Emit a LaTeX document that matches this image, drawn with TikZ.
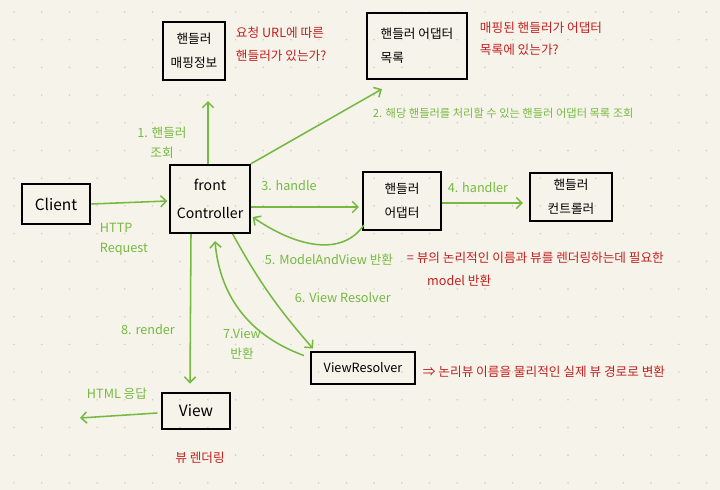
\documentclass[tikz,border=0pt]{standalone}
\usepackage{fontspec}
\setmainfont{Noto Sans CJK KR}
\usetikzlibrary{calc,arrows.meta}
\definecolor{pen}{HTML}{76B942}
\definecolor{ink}{HTML}{C3201F}
\definecolor{paper}{HTML}{F6F4EA}
\definecolor{dotc}{HTML}{CFCDC2}

\begin{document}
\begin{tikzpicture}[x=0.025cm,y=-0.025cm,
    box/.style={draw=black,line width=1.5pt,align=center,inner sep=2pt,font=\fontsize{9}{17}\selectfont},
    garrow/.style={-{Straight Barb[length=4pt,width=8pt]},draw=pen,line width=1.1pt},
    glabel/.style={text=pen,font=\fontsize{9}{14}\selectfont,align=center},
    rnote/.style={text=ink,font=\fontsize{9}{16}\selectfont,align=left,anchor=west}]
        \fill[paper] (0,0) rectangle (720,490);
        \foreach \i in {0,...,25}
          \foreach \j in {0,...,17}
            \fill[dotc] (14+27.7*\i,12+27.7*\j) circle (0.6pt);
        \node[box,minimum width=1.55cm,minimum height=1.45cm] (hmap) at (194,51) {핸들러\\매핑정보};
        \node[box,align=left,minimum width=2.5cm,minimum height=1.65cm] (hlist) at (417,46) {핸들러 어댑터\\목록};
        \node[box,font=\fontsize{11}{13}\selectfont,minimum width=1.72cm,minimum height=1cm] (cli) at (56,204) {Client};
        \node[box,font=\fontsize{10}{20}\selectfont,minimum width=1.98cm,minimum height=1.7cm] (fc) at (210,199) {front\\Controller};
        \node[box,minimum width=1.95cm,minimum height=1.45cm] (hadp) at (402,201) {핸들러\\어댑터};
        \node[box,minimum width=2.05cm,minimum height=1.22cm] (hctl) at (571,197) {핸들러\\컨트롤러};
        \node[box,minimum width=2.6cm,minimum height=0.82cm] (vres) at (363,368) {ViewResolver};
        \node[box,font=\fontsize{11}{13}\selectfont,minimum width=1.68cm,minimum height=0.92cm] (view) at (196,411) {View};
        \coordinate (html) at (80,418);
        \draw[garrow] ($(fc.north)+(-2,0)$) -- ($(hmap.south)+(14,20)$);
        \draw[garrow] (fc.north east) -- ($(hlist.south west)+(16,9)$);
        \draw[garrow] (cli.east) -- ($(cli.east -| fc.west)+(-2,-3)$);
        \draw[garrow] ($(fc.east)+(0,8)$) -- ($(hadp.west)+(-3,6)$);
        \draw[garrow] ($(hadp.east)+(0,2)$) -- ($(hctl.west)+(-6,6)$);
        \draw[garrow] ($(hadp.south west)+(2,-6)$) to[out=235,in=-35] ($(fc.east)+(2,18)$);
        \draw[garrow] ($(fc.south east)+(-18,0)$) to[bend right=6] ($(vres.north west)+(3,-2)$);
        \draw[garrow] ($(vres.north west)+(-6,5)$) to[out=160,in=-85] ($(fc.south)+(5,7)$);
        \draw[garrow] ($(fc.south)+(-19,0)$) -- ($(view.north)+(-6,-8)$);
        \draw[garrow] ($(view.west)+(-4,2)$) -- (html);
        \node[glabel] (l1) at (162,143) {1. 핸들러\\조회};
        \node[glabel,anchor=west,font=\fontsize{8}{10}\selectfont] (l2) at (368,113) {2. 해당 핸들러를 처리할 수 있는 핸들러 어댑터 목록 조회};
        \node[glabel,align=left,anchor=west] (lreq) at (95,239) {HTTP\\Request};
        \node[glabel] (l3) at (289,186) {3. handle};
        \node[glabel] (l4) at (478,188) {4. handler};
        \node[glabel,anchor=west] (l5) at (260,260) {5. ModelAndView 반환};
        \node[glabel,anchor=west] (l6) at (290,298) {6. View Resolver};
        \node[glabel] (l7) at (242,344) {7.View\\반환};
        \node[glabel] (l8) at (148,330) {8. render};
        \node[glabel] (lhtml) at (117,394) {HTML 응답};
        \node[rnote] (nmap) at (231,44) {요청 URL에 따른\\핸들러가 있는가?};
        \node[rnote] (nlist) at (475,39) {매핑된 핸들러가 어댑터\\목록에 있는가?};
        \node[rnote] (nmav) at (402,269) {= 뷰의 논리적인 이름과 뷰를 렌더링하는데 필요한\\\hspace*{1.6em}model 반환};
        \node[rnote] (nvres) at (418,372) {⇒ 논리뷰 이름을 물리적인 실제 뷰 경로로 변환};
        \node[text=ink,font=\fontsize{9}{11}\selectfont] (nview) at (200,458) {뷰 렌더링};
\end{tikzpicture}
\end{document}
